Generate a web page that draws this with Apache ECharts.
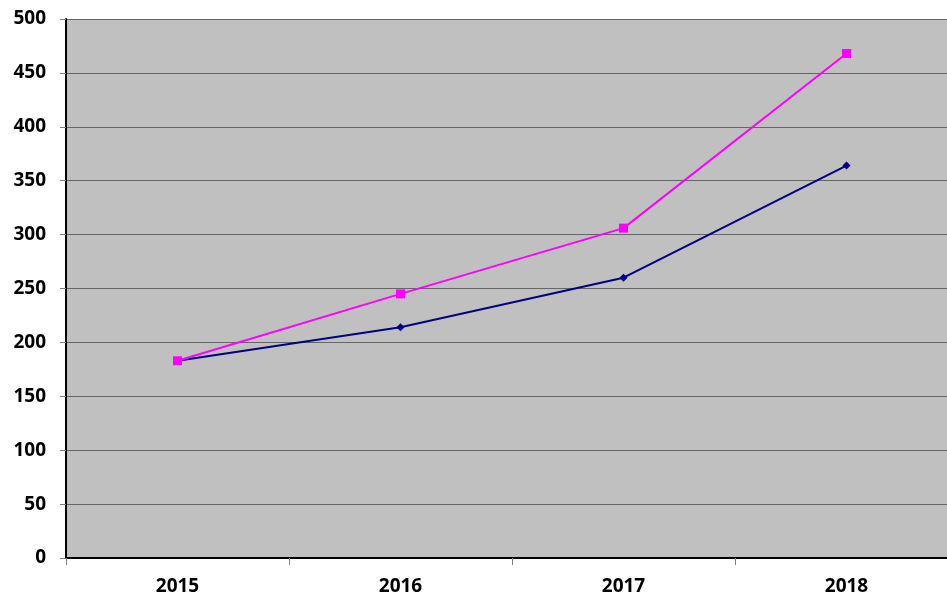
<!DOCTYPE html>
<html>
<head>
<meta charset="utf-8">
<script src="https://cdn.jsdelivr.net/npm/echarts@6/dist/echarts.min.js"></script>
<style>
	html, body { margin: 0; padding: 0; background: #fff; }
	#main { width: 947px; height: 599px; }
</style>
</head>
<body>
<div id="main"></div>
<script>
// 数据
var years = ['2015', '2016', '2017', '2018'];
var navySeries = [183, 214, 260, 364];
var pinkSeries = [183, 245, 306, 468];

var myChart = echarts.init(document.getElementById('main'));
var labelFont = {
	fontFamily: 'Open Sans',
	fontWeight: 'bold',
	fontSize: 19,
	color: '#000'
};
var option = {
	animation: false,
	grid: {
		left: 66,
		width: 892,
		top: 19,
		height: 539,
		outerBoundsMode: 'none',
		containLabel: false,
		show: true,
		backgroundColor: '#c0c0c0',
		borderWidth: 0
	},
	xAxis: {
		type: 'category',
		data: years,
		boundaryGap: true,
		axisLine: { lineStyle: { color: '#000', width: 2 } },
		axisTick: { show: true, length: 7, lineStyle: { color: '#808080' } },
		axisLabel: Object.assign({ margin: 19 }, labelFont),
		splitLine: { show: false }
	},
	yAxis: {
		type: 'value',
		min: 0,
		max: 500,
		interval: 50,
		axisLine: { show: true, lineStyle: { color: '#000', width: 2 } },
		axisTick: { show: true, length: 6, lineStyle: { color: '#808080' } },
		axisLabel: Object.assign({ margin: 20 }, labelFont),
		splitLine: { show: true, lineStyle: { color: '#666', width: 1 } }
	},
	series: [{
		name: 'navy',
		type: 'line',
		data: navySeries,
		symbol: 'diamond',
		symbolSize: 8,
		lineStyle: { color: '#000080', width: 2 },
		itemStyle: { color: '#000080' }
	}, {
		name: 'pink',
		type: 'line',
		data: pinkSeries,
		symbol: 'rect',
		symbolSize: 9,
		lineStyle: { color: '#ff00ff', width: 2 },
		itemStyle: { color: '#ff00ff' }
	}]
};
myChart.setOption(option);
</script>
</body>
</html>
